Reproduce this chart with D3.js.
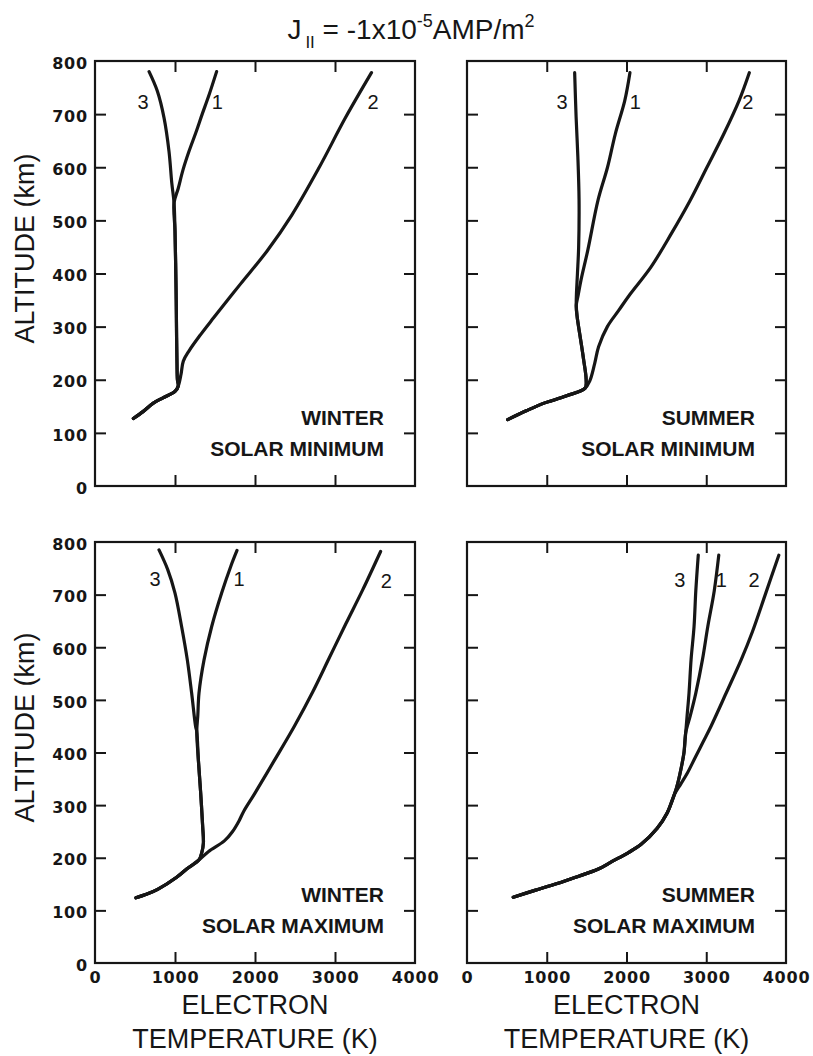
<!DOCTYPE html>
<html>
<head>
<meta charset="utf-8">
<script src="https://cdn.jsdelivr.net/npm/d3@7"></script>
<style>
  body { margin: 0; background: #fff; }
  svg { display: block; }
</style>
</head>
<body>
<div class="chart"></div>
<script>
// ELECTRON TEMPERATURE PROFILES, FOUR PANELS
// every curve point is [temperature (K), altitude (km)]

const altTicks = [0, 100, 200, 300, 400, 500, 600, 700, 800];
const altTickMarks = [100, 200, 300, 400, 500, 600, 700];
const tempTicks = [0, 1000, 2000, 3000, 4000];
const tempTickMarks = [1000, 2000, 3000];
const curveNames = ['1', '2', '3'];

// winter, solar minimum
const winMinBase = [[480, 127], [600, 140], [729, 156], [850, 166], [1000, 178], [1040, 188]];
const winMinLow = [[1030, 200], [1025, 230], [1020, 280], [1015, 350], [1008, 420], [1000, 480], [988, 533]];
const winMin1 = [[1040, 560], [1100, 595], [1175, 630], [1260, 665], [1340, 700], [1423, 735], [1520, 780]];
const winMin2 = [[1075, 210], [1104, 235], [1174, 254], [1320, 285], [1485, 317], [1817, 380], [2149, 442], [2460, 510], [2800, 599], [3130, 693], [3456, 778]];
const winMin3 = [[960, 570], [925, 630], [863, 693], [780, 743], [676, 780]];
const winMinLabels = [[1530, 723], [3475, 723], [600, 723]];

// summer, solar minimum
const sumMinBase = [[510, 125], [750, 142], [966, 156], [1072, 161], [1250, 170], [1480, 184]];
const sumMinLow = [[1494, 200], [1460, 240], [1420, 280], [1380, 320], [1370, 340]];
const sumMin1 = [[1395, 360], [1430, 388], [1515, 444], [1643, 538], [1762, 600], [1860, 663], [1979, 726], [2043, 778]];
const sumMin2 = [[1540, 198], [1600, 230], [1650, 262], [1760, 300], [1900, 330], [2040, 360], [2306, 412], [2562, 475], [2796, 537], [3009, 600], [3221, 663], [3413, 726], [3540, 778]];
const sumMin3 = [[1372, 360], [1385, 400], [1400, 450], [1405, 540], [1390, 620], [1368, 695], [1350, 778]];
const sumMinLabels = [[2110, 723], [3520, 723], [1191, 723]];

// winter, solar maximum
const winMaxBase = [[512, 124], [650, 131], [783, 140], [1021, 163], [1150, 179], [1300, 196]];
const winMaxLow = [[1335, 210], [1355, 228], [1346, 259], [1321, 323], [1292, 386], [1272, 440]];
const winMax1 = [[1285, 470], [1300, 513], [1363, 576], [1458, 639], [1583, 703], [1700, 755], [1775, 784]];
const winMax2 = [[1420, 212], [1617, 232], [1720, 250], [1800, 270], [1858, 288], [1992, 321], [2242, 385], [2492, 450], [2721, 515], [2929, 580], [3137, 645], [3346, 709], [3570, 782]];
const winMax3 = [[1258, 449], [1208, 513], [1154, 576], [1083, 639], [1000, 703], [908, 748], [800, 785]];
const winMaxLabels = [[1800, 730], [3640, 726], [750, 730]];

// summer, solar maximum
const sumMaxBase = [[580, 125], [850, 138], [1131, 151], [1400, 165], [1640, 178], [1820, 193], [2015, 209], [2180, 225], [2385, 256], [2510, 285], [2600, 320]];
const sumMaxLow = [[2640, 340], [2685, 370], [2721, 400], [2742, 437]];
const sumMax1 = [[2800, 470], [2869, 513], [2953, 577], [3020, 640], [3100, 707], [3157, 775]];
const sumMax2 = [[2680, 340], [2760, 360], [2860, 390], [2960, 420], [3060, 450], [3250, 513], [3440, 577], [3580, 630], [3740, 700], [3910, 775]];
const sumMax3 = [[2760, 470], [2784, 513], [2810, 577], [2847, 639], [2869, 707], [2900, 775]];
const sumMaxLabels = [[3190, 728], [3598, 728], [2667, 728]];

// panels: curves 1 and 3 share the base and the low part, curve 2 leaves after the base
const panels = [
	{ col: 0, row: 0, season: 'WINTER', solar: 'SOLAR MINIMUM',
		curves: [winMinBase.concat(winMinLow, winMin1), winMinBase.concat(winMin2), winMinBase.concat(winMinLow, winMin3)],
		labels: winMinLabels },
	{ col: 1, row: 0, season: 'SUMMER', solar: 'SOLAR MINIMUM',
		curves: [sumMinBase.concat(sumMinLow, sumMin1), sumMinBase.concat(sumMin2), sumMinBase.concat(sumMinLow, sumMin3)],
		labels: sumMinLabels },
	{ col: 0, row: 1, season: 'WINTER', solar: 'SOLAR MAXIMUM',
		curves: [winMaxBase.concat(winMaxLow, winMax1), winMaxBase.concat(winMax2), winMaxBase.concat(winMaxLow, winMax3)],
		labels: winMaxLabels },
	{ col: 1, row: 1, season: 'SUMMER', solar: 'SOLAR MAXIMUM',
		curves: [sumMaxBase.concat(sumMaxLow, sumMax1), sumMaxBase.concat(sumMax2), sumMaxBase.concat(sumMaxLow, sumMax3)],
		labels: sumMaxLabels }
];

// layout
const colLeft = [95, 467];
const colWidth = [320, 319];
const rowTop = [61, 542];
const rowHeight = [425, 421];
const ink = '#161616';
const font = '"Liberation Sans", Arial, sans-serif';
const tickFont = '"DejaVu Sans", sans-serif';

const svg = d3.select('.chart')
	.append('svg')
		.attr('width', 813)
		.attr('height', 1056);

svg.append('rect')
	.attr('width', 813)
	.attr('height', 1056)
	.attr('fill', '#fff');

// title: J|| = -1x10^-5 AMP/m^2
const title = svg.append('text')
	.attr('x', 411)
	.attr('y', 39)
	.attr('text-anchor', 'middle')
	.attr('font-family', font)
	.attr('font-size', 28)
	.attr('fill', ink);
title.append('tspan').text('J');
title.append('tspan').attr('font-size', 17).attr('dy', 9).attr('dx', 4).text('II');
title.append('tspan').attr('dy', -9).text(' = -1x10');
title.append('tspan').attr('font-size', 18).attr('dy', -12).text('-5');
title.append('tspan').attr('dy', 12).text('AMP/m');
title.append('tspan').attr('font-size', 18).attr('dy', -12).text('2');

panels.forEach(p => {
	const width = colWidth[p.col];
	const height = rowHeight[p.row];
	const g = svg.append('g')
		.attr('transform', `translate(${colLeft[p.col]}, ${rowTop[p.row]})`);

	const xScale = d3.scaleLinear().domain([0, 4000]).range([0, width]);
	const yScale = d3.scaleLinear().domain([0, 800]).range([height, 0]);

	// inward tick marks on all four sides
	const tickStyle = sel => {
		sel.select('.domain').remove();
		sel.selectAll('line').attr('stroke', ink).attr('stroke-width', 2);
	};
	g.append('g')
		.call(d3.axisLeft(yScale).tickValues(altTickMarks).tickSize(-11).tickFormat(''))
		.call(tickStyle);
	g.append('g')
		.attr('transform', `translate(${width}, 0)`)
		.call(d3.axisRight(yScale).tickValues(altTickMarks).tickSize(-11).tickFormat(''))
		.call(tickStyle);
	g.append('g')
		.call(d3.axisTop(xScale).tickValues(tempTickMarks).tickSize(-11).tickFormat(''))
		.call(tickStyle);
	g.append('g')
		.attr('transform', `translate(0, ${height})`)
		.call(d3.axisBottom(xScale).tickValues(tempTickMarks).tickSize(-11).tickFormat(''))
		.call(tickStyle);

	// frame
	g.append('rect')
		.attr('width', width)
		.attr('height', height)
		.attr('fill', 'none')
		.attr('stroke', ink)
		.attr('stroke-width', 2.2);

	// tick labels on the outer sides only
	const labelStyle = sel => {
		sel.select('.domain').remove();
		sel.attr('font-family', tickFont).attr('font-size', 16).attr('font-weight', 'bold');
		sel.selectAll('text').attr('fill', ink).attr('letter-spacing', 0.8);
	};
	if (p.col === 0) {
		g.append('g')
			.call(d3.axisLeft(yScale).tickValues(altTicks).tickSize(0).tickPadding(7).tickFormat(d3.format('d')))
			.call(labelStyle)
			.selectAll('text').attr('dy', '0.45em');
	}
	if (p.row === 1) {
		g.append('g')
			.attr('transform', `translate(0, ${height})`)
			.call(d3.axisBottom(xScale).tickValues(tempTicks).tickSize(0).tickPadding(9).tickFormat(d3.format('d')))
			.call(labelStyle);
	}

	// curves
	const drawLine = d3.line()
		.x(d => xScale(d[0]))
		.y(d => yScale(d[1]))
		.curve(d3.curveCatmullRom.alpha(0.5));

	g.selectAll('.line')
		.data(p.curves)
		.enter()
		.append('path')
		.attr('class', 'line')
		.attr('d', drawLine)
		.style('stroke', ink)
		.style('stroke-width', 3.2)
		.style('stroke-linecap', 'round')
		.style('stroke-linejoin', 'round')
		.style('fill', 'none');

	// curve numbers
	g.selectAll('.num')
		.data(p.labels)
		.enter()
		.append('text')
		.attr('class', 'num')
		.attr('x', d => xScale(d[0]))
		.attr('y', d => yScale(d[1]))
		.attr('dy', '0.36em')
		.attr('text-anchor', 'middle')
		.attr('font-family', font)
		.attr('font-size', 20)
		.attr('fill', ink)
		.text((d, i) => curveNames[i]);

	// season / solar cycle note
	g.append('text')
		.attr('x', width - 31)
		.attr('y', height - 61)
		.attr('text-anchor', 'end')
		.attr('font-family', font)
		.attr('font-weight', 'bold')
		.attr('font-size', 21)
		.attr('fill', ink)
		.text(p.season);
	g.append('text')
		.attr('x', width - 31)
		.attr('y', height - 30)
		.attr('text-anchor', 'end')
		.attr('font-family', font)
		.attr('font-weight', 'bold')
		.attr('font-size', 21)
		.attr('fill', ink)
		.text(p.solar);

	// axis titles
	if (p.col === 0) {
		svg.append('text')
			.attr('transform', `translate(34, ${rowTop[p.row] + height / 2 - 25}) rotate(-90)`)
			.attr('text-anchor', 'middle')
			.attr('font-family', font)
			.attr('font-size', 27)
			.attr('fill', ink)
			.text('ALTITUDE (km)');
	}
	if (p.row === 1) {
		const cx = colLeft[p.col] + width / 2;
		svg.append('text')
			.attr('x', cx)
			.attr('y', 1014)
			.attr('text-anchor', 'middle')
			.attr('font-family', font)
			.attr('font-size', 27)
			.attr('fill', ink)
			.text('ELECTRON');
		svg.append('text')
			.attr('x', cx)
			.attr('y', 1048)
			.attr('text-anchor', 'middle')
			.attr('font-family', font)
			.attr('font-size', 27)
			.attr('fill', ink)
			.text('TEMPERATURE (K)');
	}
});
</script>
</body>
</html>
